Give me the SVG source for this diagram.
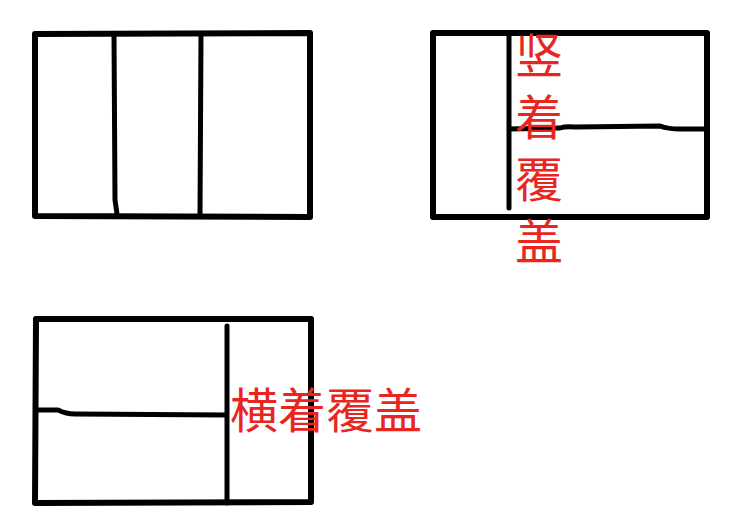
<svg xmlns="http://www.w3.org/2000/svg" width="729" height="524" viewBox="0 0 729 524">
<style>
.ln{fill:none;stroke:#000;stroke-width:5;stroke-linecap:round;stroke-linejoin:round}
.bd{stroke-width:6}
.lbl{fill:#e8261f;font-family:"Noto Sans CJK SC","Noto Sans",sans-serif;font-size:48px}
</style>
<rect width="729" height="524" fill="#fff"/>
<g id="sketch1">
<path class="ln bd" d="M35,34 L310,33 M35,216 L310,217 M35,34 L35,216 M310,33 L310,217"/>
<path class="ln" d="M114,34 L115,200 L117,214 M201,34 L200,215"/>
</g>
<g id="sketch2">
<path class="ln bd" d="M433,33 L707,33 M433,217 L707,217 M433,33 L433,217 M707,33 L707,217"/>
<path class="ln" d="M509,33 L509,208 M509,129 L560,128 Q566,126 575,127 L660,126 Q668,129 680,129 L707,129"/>
<text class="lbl" x="539" y="31" style="writing-mode:vertical-rl;letter-spacing:14px">竖着覆盖</text>
</g>
<g id="sketch3">
<path class="ln bd" d="M36,319 L311,319 M35,503 L311,502 M36,319 L35,503 M311,319 L311,502"/>
<path class="ln" d="M227,326 L227,503 M38,410 L58,410 Q66,414 75,414 L227,415"/>
<text class="lbl" x="230" y="428">横着覆盖</text>
</g>
</svg>
